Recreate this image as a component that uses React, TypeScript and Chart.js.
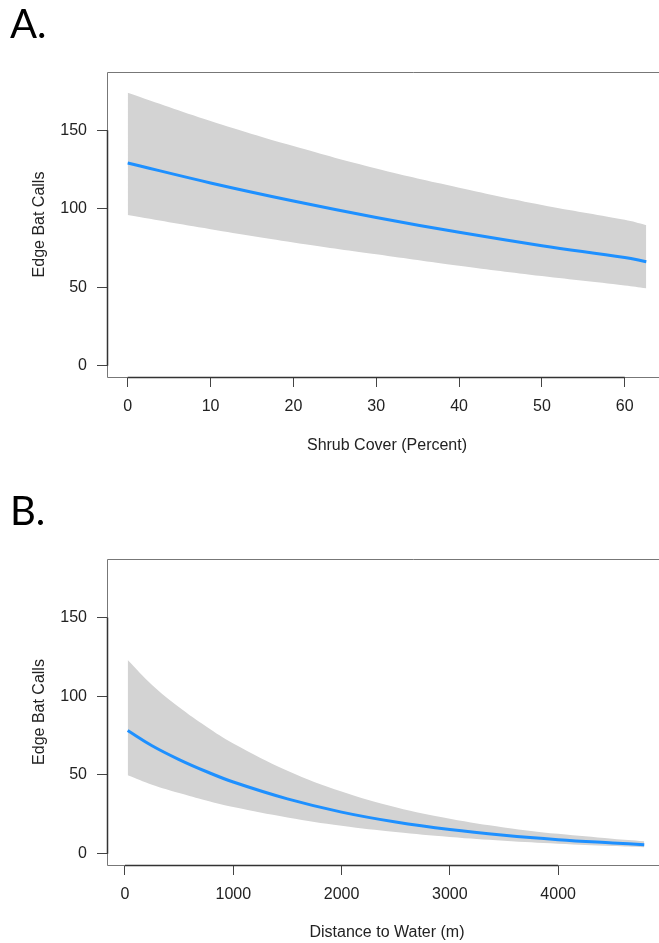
import React, { useEffect, useRef } from 'react';
import { Chart, registerables } from 'chart.js';
Chart.register(...registerables);

// Panel A: Shrub cover
const shrubCover = [0, 10, 20, 30, 40, 50, 60, 62.6];
const shrubFit = [129.2, 116.5, 105, 94.5, 85, 76.5, 69, 66.3];
const shrubUpper = [174, 156, 140, 125.7, 113.5, 102.5, 93, 89.6];
const shrubLower = [96, 87, 78.6, 71, 63.7, 57.1, 51.1, 49.3];

// Panel B: Distance to water
const waterDistance = [25, 250, 500, 750, 1000, 1500, 2000, 2500, 3000, 3500, 4000, 4500, 4795];
const waterFit = [78.3, 68.6, 59.8, 52.2, 45.5, 34.8, 26.4, 20.1, 15.3, 11.7, 8.9, 6.8, 5.7];
const waterUpper = [123, 107.2, 93, 80.8, 70, 52.7, 39.5, 29.5, 22.2, 16.7, 12.6, 9.5, 7.9];
const waterLower = [49.8, 43.8, 38.5, 33.8, 29.6, 23, 17.7, 13.7, 10.6, 8.2, 6.3, 4.9, 4.1];

const yTicks = [0, 50, 100, 150];
const shrubTicks = [0, 10, 20, 30, 40, 50, 60];
const waterTicks = [0, 1000, 2000, 3000, 4000];

const FONT = "'Liberation Sans', Arial, sans-serif";
const TEXT = '#222';
const CANVAS_W = 720;
const AREA_RIGHT = 667;

type PanelProps = {
  label: string;
  labelBaseline: number;
  xTitle: string;
  xs: number[];
  fit: number[];
  upper: number[];
  lower: number[];
  xTicks: number[];
  xMin: number;
  xMax: number;
  height: number;
  padTop: number;
  xAxisHeight: number;
  titlePadBottom: number;
  top: number;
};

function Panel(p: PanelProps) {
  const ref = useRef<HTMLCanvasElement | null>(null);
  useEffect(() => {
    if (!ref.current) return;
    const pts = (ys: number[]) => p.xs.map((x, i) => ({ x, y: ys[i] }));
    const boxPlugin = {
      id: 'boxPlugin',
      afterDatasetsDraw(chart: any) {
        const { ctx, chartArea: a, scales } = chart;
        ctx.save();
        ctx.strokeStyle = '#777';
        ctx.lineWidth = 1;
        ctx.beginPath();
        ctx.moveTo(CANVAS_W, a.top + 0.5);
        ctx.lineTo(a.left + 0.5, a.top + 0.5);
        ctx.lineTo(a.left + 0.5, a.bottom + 0.5);
        ctx.lineTo(CANVAS_W, a.bottom + 0.5);
        ctx.stroke();
        ctx.strokeStyle = '#333';
        ctx.lineWidth = 1.5;
        const xs = scales.x;
        const ys = scales.y;
        ctx.beginPath();
        ctx.moveTo(xs.getPixelForValue(p.xTicks[0]), a.bottom + 0.5);
        ctx.lineTo(xs.getPixelForValue(p.xTicks[p.xTicks.length - 1]), a.bottom + 0.5);
        ctx.moveTo(a.left + 0.5, ys.getPixelForValue(yTicks[0]));
        ctx.lineTo(a.left + 0.5, ys.getPixelForValue(yTicks[yTicks.length - 1]));
        ctx.stroke();
        ctx.restore();
      },
      afterDraw(chart: any) {
        const { ctx } = chart;
        ctx.save();
        ctx.font = "40px Lato, 'Open Sans', sans-serif";
        ctx.fillStyle = '#000';
        ctx.textBaseline = 'alphabetic';
        ctx.textAlign = 'left';
        ctx.fillText(p.label, 10, p.labelBaseline);
        ctx.restore();
      },
    };
    const chart = new Chart(ref.current, {
      type: 'line',
      data: {
        datasets: [
          {
            data: pts(p.fit),
            borderColor: '#1E90FF',
            borderWidth: 3,
            pointRadius: 0,
            fill: false,
            tension: 0.4,
          },
          {
            data: pts(p.upper),
            borderWidth: 0,
            borderColor: 'rgba(0,0,0,0)',
            backgroundColor: '#d3d3d3',
            pointRadius: 0,
            fill: '+1',
            tension: 0.4,
          },
          {
            data: pts(p.lower),
            borderWidth: 0,
            borderColor: 'rgba(0,0,0,0)',
            pointRadius: 0,
            fill: false,
            tension: 0.4,
          },
        ],
      },
      options: {
        responsive: false,
        animation: false,
        layout: { padding: { top: p.padTop, right: CANVAS_W - AREA_RIGHT, left: 0, bottom: 0 } },
        plugins: { legend: { display: false }, tooltip: { enabled: false }, title: { display: false } },
        scales: {
          x: {
            type: 'linear',
            min: p.xMin,
            max: p.xMax,
            afterBuildTicks: (s: any) => {
              s.ticks = p.xTicks.map((v) => ({ value: v }));
            },
            afterFit: (s: any) => {
              s.height = p.xAxisHeight;
            },
            grid: { drawOnChartArea: false, drawTicks: true, tickLength: 10, color: '#444', tickColor: '#444', lineWidth: 1 },
            border: { display: false },
            ticks: {
              font: { family: FONT, size: 16, lineHeight: 1 },
              color: TEXT,
              padding: 12,
              maxRotation: 0,
              autoSkip: false,
              callback: (v: any) => String(v),
            },
            title: {
              display: true,
              text: p.xTitle,
              color: TEXT,
              font: { family: FONT, size: 16, lineHeight: 1 },
              padding: { top: 0, bottom: p.titlePadBottom },
            },
          },
          y: {
            type: 'linear',
            min: -7.2,
            max: 187.2,
            afterBuildTicks: (s: any) => {
              s.ticks = yTicks.map((v) => ({ value: v }));
            },
            afterFit: (s: any) => {
              s.width = 107;
            },
            grid: { drawOnChartArea: false, drawTicks: true, tickLength: 10, color: '#444', tickColor: '#444', lineWidth: 1 },
            border: { display: false },
            ticks: {
              font: { family: FONT, size: 16, lineHeight: 1 },
              color: TEXT,
              padding: 10,
              autoSkip: false,
              callback: (v: any) => String(v),
            },
            title: {
              display: true,
              text: 'Edge Bat Calls',
              color: TEXT,
              font: { family: FONT, size: 16, lineHeight: 1 },
              padding: { top: 32, bottom: 0 },
            },
          },
        },
      } as any,
      plugins: [boxPlugin],
    });
    return () => chart.destroy();
  }, []);
  return (
    <div style={{ position: 'absolute', left: 0, top: p.top, width: CANVAS_W, height: p.height }}>
      <canvas
        ref={ref}
        width={CANVAS_W}
        height={p.height}
        style={{ display: 'block', width: CANVAS_W, height: p.height }}
      />
    </div>
  );
}

export default function App() {
  return (
    <div
      style={{
        position: 'fixed',
        left: 0,
        top: 0,
        width: 659,
        height: 943,
        overflow: 'hidden',
        background: '#fff',
      }}
    >
      <Panel
        label="A."
        labelBaseline={38}
        xTitle="Shrub Cover (Percent)"
        xs={shrubCover}
        fit={shrubFit}
        upper={shrubUpper}
        lower={shrubLower}
        xTicks={shrubTicks}
        xMin={-2.5}
        xMax={65.1}
        height={470}
        padTop={72}
        xAxisHeight={93}
        titlePadBottom={16}
        top={0}
      />
      <Panel
        label="B."
        labelBaseline={55}
        xTitle="Distance to Water (m)"
        xs={waterDistance}
        fit={waterFit}
        upper={waterUpper}
        lower={waterLower}
        xTicks={waterTicks}
        xMin={-166}
        xMax={5005}
        height={473}
        padTop={89}
        xAxisHeight={78}
        titlePadBottom={2}
        top={470}
      />
    </div>
  );
}
